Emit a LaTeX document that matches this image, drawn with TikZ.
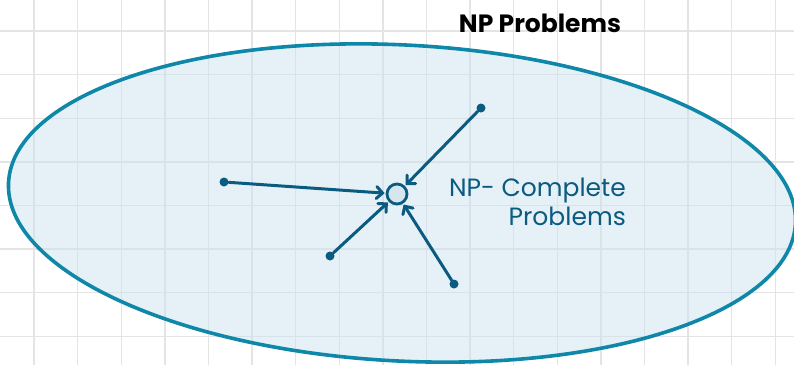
\documentclass[tikz,border=0pt]{standalone}
\usepackage{fontspec}
\setmainfont{Poppins}
\usetikzlibrary{arrows.meta}
\definecolor{gridgray}{HTML}{E4E4E4}
\definecolor{ellstroke}{HTML}{0E87A8}
\definecolor{ellfill}{HTML}{CCE3EE}
\definecolor{darkblue}{HTML}{0B5A80}
\definecolor{circfill}{HTML}{D6E6EE}
\tikzset{
  gridline/.style={draw=gridgray, line width=1.4pt},
  dotnode/.style={circle, fill=darkblue, inner sep=0pt, minimum size=9pt},
  hub/.style={circle, draw=darkblue, fill=circfill, line width=2.8pt, inner sep=0pt, minimum size=20pt},
  reduce/.style={draw=darkblue, line width=3pt, line cap=round, shorten >=1pt,
    -{Straight Barb[length=6pt,width=12pt,line cap=round]}},
  labeltext/.style={text=darkblue, font=\fontsize{25}{29}\selectfont, align=right, inner sep=0pt}
}
\begin{document}
\begin{tikzpicture}[x=1pt,y=-1pt]
\useasboundingbox (0,0) rectangle (794,365);
% grid
\foreach \i in {0,...,17} { \draw[gridline] ({34+43.6*\i},0) -- ({34+43.6*\i},365); }
\foreach \j in {0,...,7} { \draw[gridline] (0,{31+43.6*\j}) -- (794,{31+43.6*\j}); }
% big ellipse
\path[fill=ellfill, fill opacity=0.5, draw=ellstroke, draw opacity=1, line width=3.6pt, rotate around={-3:(402,203)}]
  (402,203) ellipse [x radius=394, y radius=158];
% title
\node[anchor=base, font=\fontsize{25}{29}\selectfont\bfseries, inner sep=0pt] (title) at (540,32) {NP Problems};
% hub and dots
\node[hub] (hub) at (397,194) {};
\node[dotnode] (a) at (224,182) {};
\node[dotnode] (b) at (481,108) {};
\node[dotnode] (c) at (330,256) {};
\node[dotnode] (d) at (454,284) {};
\draw[reduce] (a) -- (hub);
\draw[reduce] (b) -- (hub);
\draw[reduce] (c) -- (hub);
\draw[reduce] (d) -- (hub);
% label
\node[labeltext, anchor=north east] (lbl) at (626,178) {NP- Complete\\Problems};
\end{tikzpicture}
\end{document}
